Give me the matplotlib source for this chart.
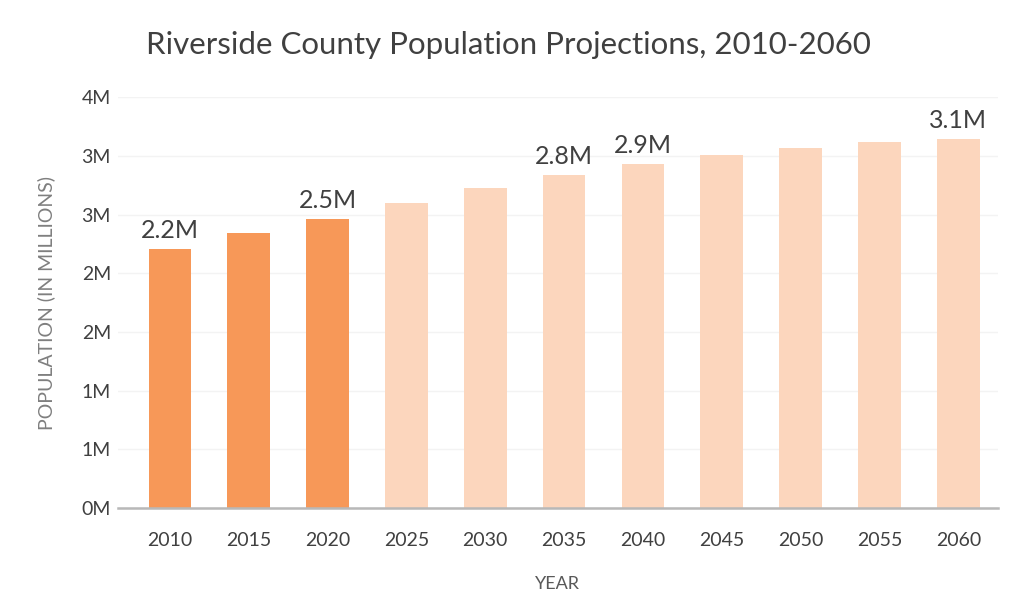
import numpy as np
import matplotlib.pyplot as plt
from matplotlib.ticker import FuncFormatter, MultipleLocator

years = ["2010", "2015", "2020", "2025", "2030", "2035",
         "2040", "2045", "2050", "2055", "2060"]
population = [2.21, 2.34, 2.46, 2.60, 2.73, 2.84,
              2.93, 3.01, 3.07, 3.12, 3.14]  # millions
observed = [True, True, True, False, False, False,
            False, False, False, False, False]
labeled = ["2010", "2020", "2035", "2040", "2060"]

plt.rcParams['font.family'] = ['Lato', 'DejaVu Sans']

fig = plt.figure(figsize=(10.16, 6.15), dpi=100)
ax = fig.add_axes([0.116, 0.174, 0.866, 0.668])

x = np.arange(len(years))
colors = ['#f79858' if o else '#fcd6bd' for o in observed]
bars = ax.bar(x, population, width=0.54, color=colors, zorder=2)

for xi, yr, val in zip(x, years, population):
    if yr in labeled:
        ax.annotate(f"{val:.1f}M", (xi, val), xytext=(0, 5),
                    textcoords='offset points', ha='center', va='bottom',
                    fontsize=18, color='#404040')

ax.set_xlim(-0.66, 10.5)
ax.set_ylim(0, 3.5)
ax.yaxis.set_major_locator(MultipleLocator(0.5))
ax.yaxis.set_major_formatter(
    FuncFormatter(lambda v, p: f"{int(np.floor(v + 0.5))}M"))
ax.set_xticks(x)
ax.set_xticklabels(years)

ax.grid(axis='y', color='#f3f3f3', linewidth=1, zorder=0)
for s in ['top', 'right', 'left']:
    ax.spines[s].set_visible(False)
ax.spines['bottom'].set_color('#b8b8b8')
ax.spines['bottom'].set_linewidth(1.8)
ax.tick_params(axis='both', length=0, labelsize=14, colors='#404040')
ax.tick_params(axis='x', pad=17)
ax.tick_params(axis='y', pad=5)

fig.text(0.5, 1 - 45 / 615,
         "Riverside County Population Projections, 2010-2060",
         ha='center', va='center', fontsize=22.5, color='#404040')
ax.set_xlabel("YEAR", fontsize=13, color='#595959', labelpad=20)
ax.set_ylabel("POPULATION (IN MILLIONS)", fontsize=14, color='#7f7f7f',
              labelpad=19)

fig.savefig("out.png", dpi=100)
